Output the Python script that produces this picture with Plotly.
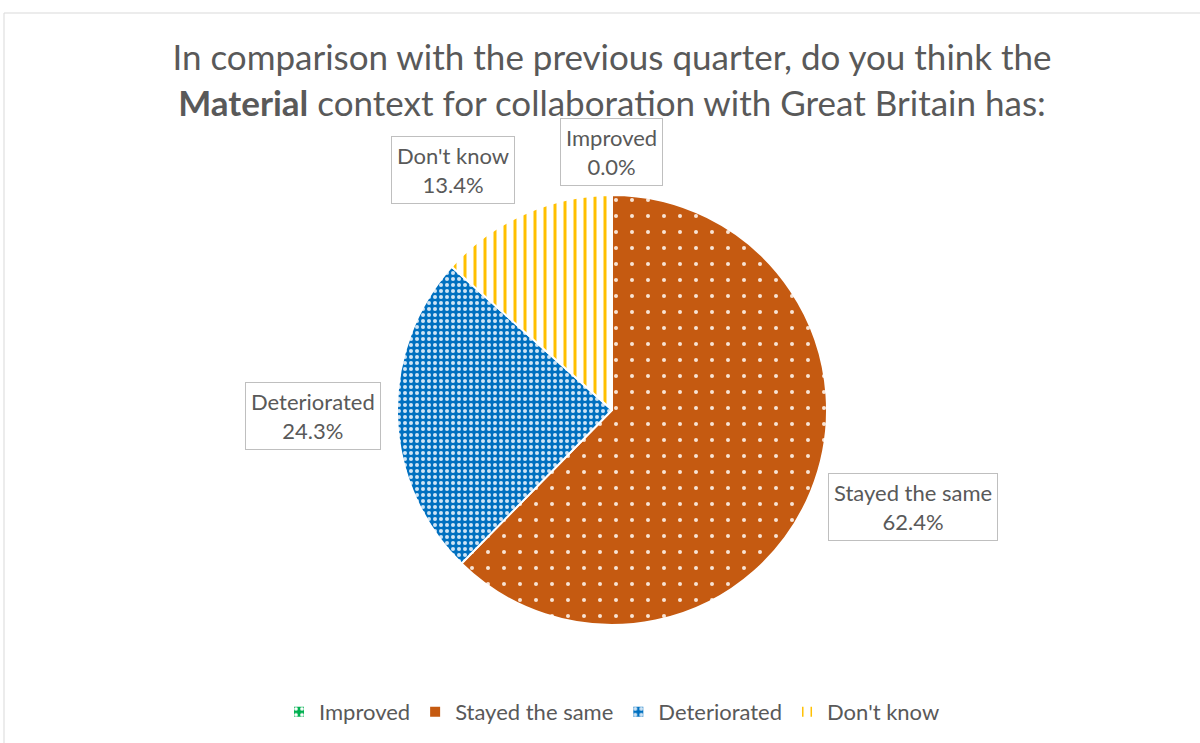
import plotly.graph_objects as go

# Survey responses (share of respondents, %)
categories = ["Improved", "Stayed the same", "Deteriorated", "Don't know"]
shares = [0.0, 62.4, 24.3, 13.4]

colors = ["#00B050", "#C55A11", "#0070C0", "#FFC000"]
bg_colors = ["#00B050", "#C55A11", "#0070C0", "#FFFFFF"]
fg_colors = ["#FFFFFF", "#F8E3D4", "#CFE4F5", "#FFC000"]
shapes = [".", ".", ".", "|"]
sizes = [6, 16, 6, 10]
solidities = [0.3, 0.05, 0.35, 0.3]

# Label box anchor points (pixel centres within the 1200x743 canvas)
label_pos = {
    "Improved": (611, 152),
    "Stayed the same": (913, 507),
    "Deteriorated": (313, 416),
    "Don't know": (453, 170),
}

W, H = 1200, 743
FONT = "Lato"
TEXT = "#595959"

cx, cy, r = 612, 410, 215

fig = go.Figure(
    go.Pie(
        labels=categories,
        values=shares,
        sort=False,
        direction="clockwise",
        rotation=0,
        textinfo="none",
        hoverinfo="label+percent",
        marker=dict(
            colors=colors,
            line=dict(color="#FFFFFF", width=2),
            pattern=dict(
                shape=shapes,
                bgcolor=bg_colors,
                fgcolor=fg_colors,
                size=sizes,
                solidity=solidities,
                fillmode="replace",
            ),
        ),
        domain=dict(
            x=[(cx - r) / W, (cx + r) / W],
            y=[1 - (cy + r) / H, 1 - (cy - r) / H],
        ),
    )
)

annotations = []
for cat, val in zip(categories, shares):
    px, py = label_pos[cat]
    annotations.append(
        dict(
            text=f"{cat}<br>{val:.1f}%",
            x=px / W,
            y=1 - py / H,
            xref="paper",
            yref="paper",
            xanchor="center",
            yanchor="middle",
            showarrow=False,
            align="center",
            font=dict(family=FONT, size=22, color=TEXT),
            bgcolor="#FFFFFF",
            bordercolor="#BFBFBF",
            borderwidth=1,
            borderpad=5,
        )
    )

fig.update_layout(
    width=W,
    height=H,
    margin=dict(l=0, r=0, t=0, b=0),
    paper_bgcolor="#FFFFFF",
    plot_bgcolor="#FFFFFF",
    title=dict(
        text="In comparison with the previous quarter, do you think the<br>"
        "<b>Material</b> context for collaboration with Great Britain has:",
        x=612 / W,
        xanchor="center",
        y=1 - 70 / H,
        yanchor="middle",
        yref="paper",
        font=dict(family=FONT, size=35, color=TEXT),
    ),
    legend=dict(
        orientation="h",
        x=612 / W,
        xanchor="center",
        y=1 - 712 / H,
        yanchor="middle",
        font=dict(family=FONT, size=22, color=TEXT),
        itemwidth=30,
    ),
    annotations=annotations,
    shapes=[
        dict(
            type="rect",
            xref="paper",
            yref="paper",
            x0=4 / W,
            x1=1.01,
            y0=-0.01,
            y1=1 - 13 / H,
            line=dict(color="#D9D9D9", width=1),
            fillcolor="rgba(0,0,0,0)",
            layer="below",
        )
    ],
)

fig.write_html("out.html")
